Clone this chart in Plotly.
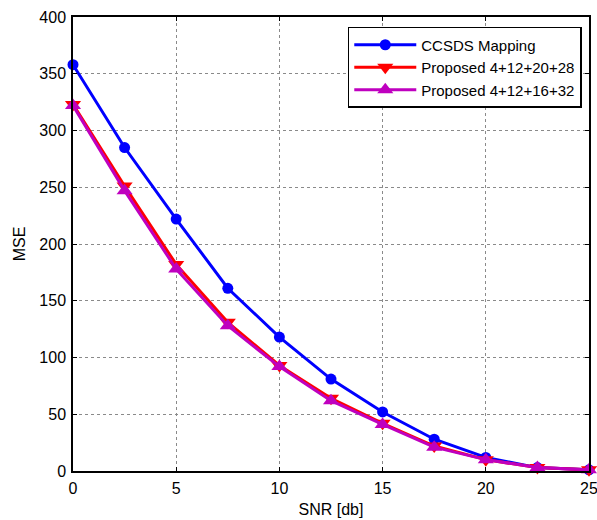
import plotly.graph_objects as go

snr = [0, 2.5, 5, 7.5, 10, 12.5, 15, 17.5, 20, 22.5, 25]
ccsds = [358, 285, 222, 161, 118, 81, 52, 28, 12, 3, 1]
prop_a = [323, 251, 182, 131, 93, 64, 42, 22, 10, 3, 1]
prop_b = [322, 247, 178, 128, 92, 62, 41, 21, 10, 3, 1]
names = ["CCSDS Mapping", "Proposed 4+12+20+28", "Proposed 4+12+16+32"]
x_ticks = [0, 5, 10, 15, 20, 25]
y_ticks = [0, 50, 100, 150, 200, 250, 300, 350, 400]

FONT = "Arial, Liberation Sans, sans-serif"

fig = go.Figure()
fig.add_trace(go.Scatter(x=snr, y=ccsds, name=names[0], mode="lines+markers", cliponaxis=False,
                         line=dict(color="#0000ff", width=3),
                         marker=dict(symbol="circle", size=11, color="#0000ff")))
fig.add_trace(go.Scatter(x=snr, y=prop_a, name=names[1], mode="lines+markers", cliponaxis=False,
                         line=dict(color="#ff0000", width=3),
                         marker=dict(symbol="triangle-down", size=14, color="#ff0000")))
fig.add_trace(go.Scatter(x=snr, y=prop_b, name=names[2], mode="lines+markers", cliponaxis=False,
                         line=dict(color="#bf00bf", width=3),
                         marker=dict(symbol="triangle-up", size=14, color="#bf00bf")))

axis_common = dict(showline=True, linecolor="black", linewidth=1.5, mirror="allticks",
                   ticks="inside", ticklen=4, tickcolor="black", automargin=False,
                   ticklabeloverflow="allow",
                   showgrid=True, gridcolor="#8a8a8a", griddash="dot", gridwidth=1,
                   zeroline=False, tickfont=dict(family=FONT, size=16, color="black"))

fig.update_xaxes(range=[0, 25], tickvals=x_ticks, ticklabelstandoff=2,
                 title=dict(text="SNR [db]", standoff=8,
                            font=dict(family=FONT, size=16, color="black")), **axis_common)
fig.update_yaxes(range=[0, 400], tickvals=y_ticks, ticklabelstandoff=2,
                 title=dict(text="MSE", standoff=10,
                            font=dict(family=FONT, size=16, color="black")), **axis_common)

fig.update_layout(
    width=597, height=520,
    margin=dict(l=73, r=8, t=17, b=49),
    paper_bgcolor="white", plot_bgcolor="white",
    font=dict(family=FONT, color="black"),
    legend=dict(x=0.986, y=0.978, xanchor="right", yanchor="top",
                bgcolor="white", bordercolor="black", borderwidth=1.5,
                font=dict(family=FONT, size=15, color="black"),
                tracegroupgap=0, itemwidth=62),
)

fig.write_html("out.html")
